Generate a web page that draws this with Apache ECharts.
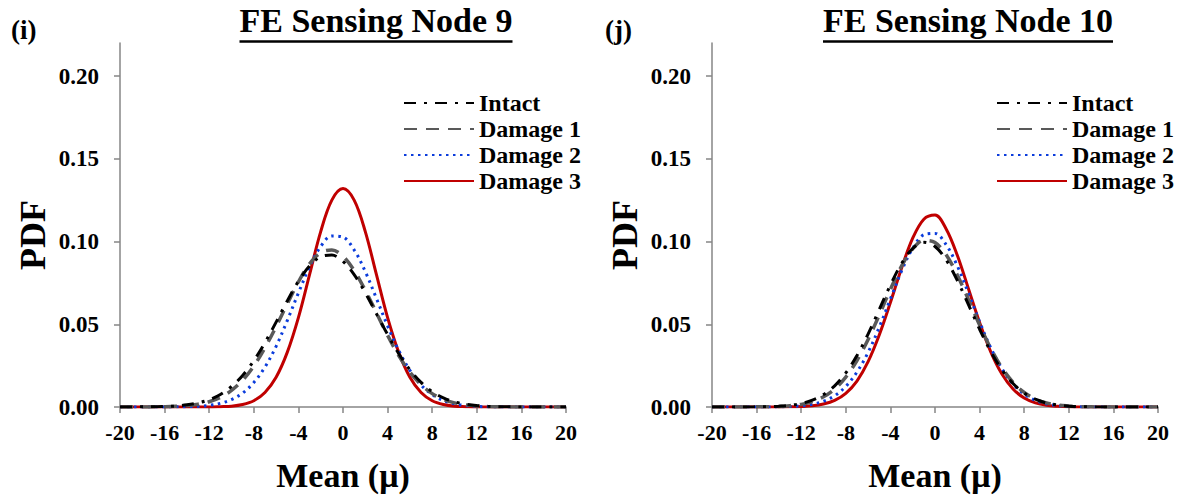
<!DOCTYPE html>
<html>
<head>
<meta charset="utf-8">
<script src="https://cdn.jsdelivr.net/npm/echarts@6/dist/echarts.min.js"></script>
<style>html,body{margin:0;padding:0;background:#fff}#c{width:1179px;height:500px}</style>
</head>
<body>
<div id="c"></div>
<script>
const xValues = [-20,-19,-18,-17,-16,-15,-14,-13,-12,-11,-10,-9,-8,-7,-6,-5,-4,-3,-2,-1,0,1,2,3,4,5,6,7,8,9,10,11,12,13,14,15,16,17,18,19,20];
const xTicks = [-20,-16,-12,-8,-4,0,4,8,12,16,20];
const yTicks = [0,0.05,0.10,0.15,0.20];
const seriesNames = ['Intact','Damage 1','Damage 2','Damage 3'];
const panelTitles = ['FE Sensing Node 9','FE Sensing Node 10'];
const panelLabels = ['(i)','(j)'];

// Node 9
const n9Intact  = [0,0,0.0001,0.0001,0.0003,0.0006,0.0013,0.0025,0.0044,0.0076,0.0124,0.0191,0.0280,0.0389,0.0513,0.0641,0.0759,0.0852,0.0908,0.0918,0.0880,0.0800,0.0690,0.0564,0.0438,0.0322,0.0225,0.0149,0.0093,0.0055,0.0031,0.0017,0.0009,0.0004,0.0002,0.0001,0,0,0,0,0];
const n9Damage1 = [0,0,0,0.0001,0.0002,0.0004,0.0008,0.0017,0.0032,0.0058,0.0100,0.0162,0.0248,0.0358,0.0486,0.0624,0.0756,0.0865,0.0933,0.0949,0.0911,0.0825,0.0705,0.0569,0.0433,0.0310,0.0210,0.0135,0.0081,0.0046,0.0025,0.0013,0.0006,0.0003,0.0001,0,0,0,0,0,0];
const n9Damage2 = [0,0,0,0,0,0.0001,0.0002,0.0004,0.0010,0.0022,0.0045,0.0084,0.0148,0.0241,0.0367,0.0522,0.0689,0.0847,0.0970,0.1034,0.1027,0.0950,0.0818,0.0656,0.0490,0.0341,0.0221,0.0133,0.0075,0.0039,0.0019,0.0009,0.0004,0.0001,0,0,0,0,0,0,0];
const n9Damage3 = [0,0,0,0,0,0,0,0,0,0.0002,0.0005,0.0015,0.0038,0.0088,0.0180,0.0330,0.0540,0.0800,0.1060,0.1250,0.1320,0.1250,0.1060,0.0800,0.0540,0.0330,0.0180,0.0088,0.0038,0.0015,0.0005,0.0002,0,0,0,0,0,0,0,0,0];

// Node 10
const n10Intact  = [0,0,0,0,0.0001,0.0002,0.0005,0.0010,0.0021,0.0041,0.0075,0.0128,0.0206,0.0311,0.0441,0.0589,0.0737,0.0867,0.0958,0.0995,0.0970,0.0889,0.0765,0.0619,0.0470,0.0335,0.0225,0.0142,0.0084,0.0047,0.0024,0.0012,0.0005,0.0002,0.0001,0,0,0,0,0,0];
const n10Damage1 = [0,0,0,0,0.0001,0.0001,0.0003,0.0008,0.0016,0.0033,0.0062,0.0109,0.0181,0.0281,0.0408,0.0556,0.0711,0.0851,0.0956,0.1007,0.0994,0.0920,0.0798,0.0649,0.0495,0.0354,0.0237,0.0149,0.0088,0.0048,0.0025,0.0012,0.0006,0.0002,0.0001,0,0,0,0,0,0];
const n10Damage2 = [0,0,0,0,0,0,0.0001,0.0003,0.0007,0.0016,0.0035,0.0068,0.0124,0.0211,0.0330,0.0482,0.0653,0.0822,0.0959,0.1041,0.1049,0.0981,0.0853,0.0688,0.0515,0.0358,0.0232,0.0139,0.0077,0.0040,0.0019,0.0009,0.0004,0.0001,0,0,0,0,0,0,0];
const n10Damage3 = [0,0,0,0,0,0,0,0.0001,0.0003,0.0007,0.0018,0.0040,0.0083,0.0157,0.0274,0.0435,0.0631,0.0839,0.1020,0.1135,0.1160,0.1076,0.0917,0.0715,0.0510,0.0333,0.0199,0.0109,0.0054,0.0025,0.0010,0.0004,0.0001,0,0,0,0,0,0,0,0,0];

const panels = [
  [n9Intact, n9Damage1, n9Damage2, n9Damage3],
  [n10Intact, n10Damage1, n10Damage2, n10Damage3]
];

const FONT = "'Liberation Serif','Times New Roman',serif";
const lineStyles = [
  {color:'#000000', width:3, type:[12,8,3,8]},
  {color:'#595959', width:3.5, type:[13,9]},
  {color:'#0b3cdc', width:3, type:[2.5,4.5]},
  {color:'#c00000', width:3, type:'solid'}
];

const gridLeft = [120, 712];
const gridW = 446, gridTop = 43, gridH = 364;

const grids = [], xAxes = [], yAxes = [], series = [], legends = [], titles = [], graphics = [];
for (let p = 0; p < 2; p++) {
  grids.push({left: gridLeft[p], top: gridTop, width: gridW, height: gridH, containLabel: false});
  xAxes.push({
    type:'value', gridIndex:p, min:-20, max:20, interval:4,
    axisLine:{show:true, lineStyle:{color:'#868686', width:1.5}},
    axisTick:{show:true, length:6, inside:false, lineStyle:{color:'#868686', width:1.5}},
    axisLabel:{margin:14, fontFamily:FONT, fontWeight:'bold', fontSize:22, color:'#000', formatter:v=>String(v)},
    splitLine:{show:false},
    name:'Mean (μ)', nameLocation:'middle', nameGap:51,
    nameTextStyle:{fontFamily:FONT, fontWeight:'bold', fontSize:34, color:'#000'}
  });
  yAxes.push({
    type:'value', gridIndex:p, min:0, max:0.22,
    axisLine:{show:true, onZero:false, lineStyle:{color:'#868686', width:1.5}},
    axisTick:{show:true, length:6, inside:false, customValues:yTicks, lineStyle:{color:'#868686', width:1.5}},
    axisLabel:{margin:21, customValues:yTicks, fontFamily:FONT, fontWeight:'bold', fontSize:23, color:'#000', formatter:v=>v.toFixed(2)},
    splitLine:{show:false}
  });
  for (let s = 0; s < 4; s++) {
    series.push({
      type:'line', name:seriesNames[s], xAxisIndex:p, yAxisIndex:p,
      data: xValues.map((x,i)=>[x, panels[p][s][i]]),
      smooth:0.35, showSymbol:false, symbol:'none',
      lineStyle: lineStyles[s], itemStyle:{color:lineStyles[s].color},
      z: 10 - s, silent:true, animation:false
    });
  }
  const legendLeft = [403, 996][p];
  legends.push({
    orient:'vertical', left:legendLeft, top:91, itemWidth:70, itemHeight:12, itemGap:2,
    data:seriesNames, selectedMode:false, padding:0,
    itemStyle:{opacity:0},
    textStyle:{fontFamily:FONT, fontWeight:'bold', fontSize:24, color:'#000'}
  });
  const cx = gridLeft[p] + gridW/2 + 33;
  titles.push({
    text: panelTitles[p], left: cx, top: 3, textAlign:'center', padding:0,
    textStyle:{fontFamily:FONT, fontWeight:'bold', fontSize:34, color:'#000'}
  });
  titles.push({
    text: panelLabels[p], left: [11, 605][p], top: 16, padding:0,
    textStyle:{fontFamily:FONT, fontWeight:'bold', fontSize:27, color:'#000'}
  });
  graphics.push({
    type:'text', x:[33, 625][p], y:235, rotation:Math.PI/2,
    style:{text:'PDF', x:0, y:0, align:'center', verticalAlign:'middle', font:"bold 36px 'Liberation Serif','Times New Roman',serif", fill:'#000'}
  });
}

const chart = echarts.init(document.getElementById('c'), null, {renderer:'svg', width:1179, height:500});
chart.setOption({
  animation:false,
  backgroundColor:'#fff',
  title: titles,
  grid: grids,
  xAxis: xAxes,
  yAxis: yAxes,
  legend: legends,
  series: series,
  graphic: graphics
});

// underline the panel titles using the title text width
const ctx = document.createElement('canvas').getContext('2d');
ctx.font = "bold 34px 'Liberation Serif','Times New Roman',serif";
const ul = [];
for (let p = 0; p < 2; p++) {
  const w = ctx.measureText(panelTitles[p]).width;
  const cx = gridLeft[p] + gridW/2 + 33;
  ul.push({type:'line', shape:{x1:cx - w/2, y1:41.5, x2:cx + w/2, y2:41.5}, style:{stroke:'#000', lineWidth:2.5}});
}
chart.setOption({graphic: graphics.concat(ul)});
</script>
</body>
</html>
